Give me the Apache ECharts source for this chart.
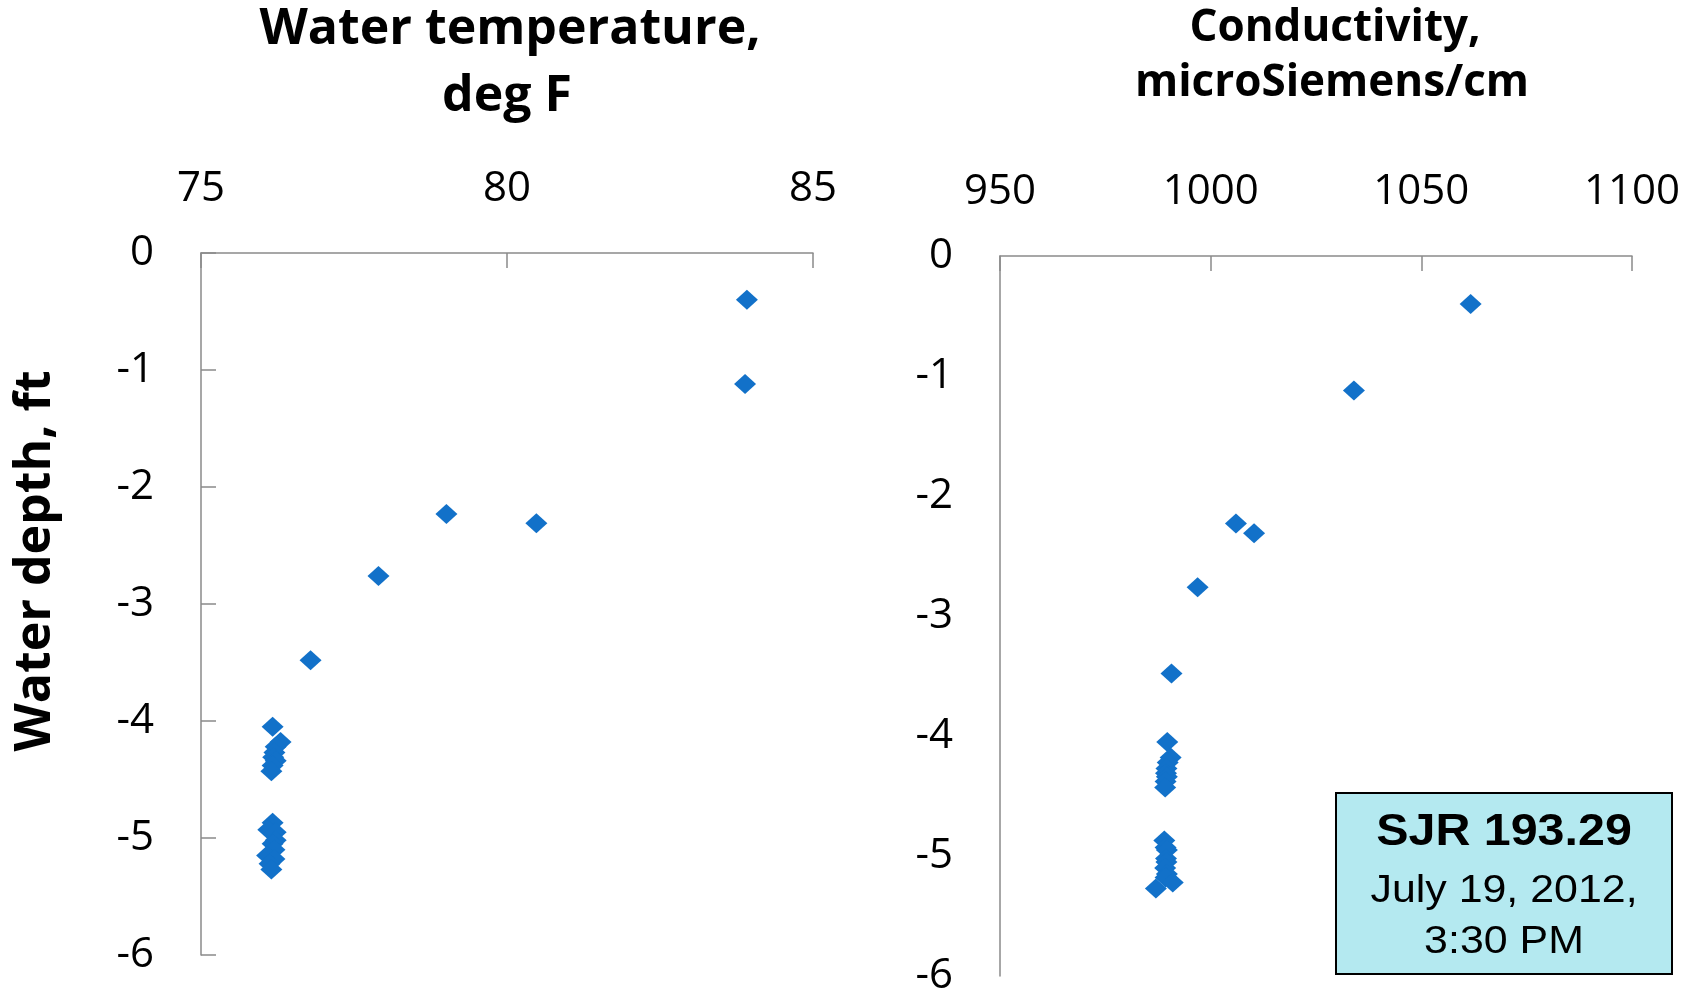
<!DOCTYPE html>
<html><head><meta charset="utf-8">
<script src="https://cdn.jsdelivr.net/npm/echarts@6/dist/echarts.min.js"></script>
<style>html,body{margin:0;padding:0;background:#fff}#c{width:1701px;height:997px}</style>
</head><body><div id="c"></div>
<script>
// Water depth (ft) of each measurement, shared by both panels
const depthFt = [-0.40, -1.12, -2.23, -2.31, -2.76, -3.48,
  -4.05, -4.18, -4.22, -4.27, -4.31, -4.34, -4.38, -4.43,
  -4.87, -4.93, -4.95, -5.02, -5.05, -5.10, -5.15, -5.18, -5.22, -5.27];
// Water temperature, deg F
const tempF = [83.92, 83.89, 79.01, 80.48, 77.90, 76.79,
  76.17, 76.30, 76.22, 76.20, 76.18, 76.22, 76.17, 76.15,
  76.17, 76.10, 76.22, 76.22, 76.17, 76.20, 76.08, 76.20, 76.12, 76.15];
// Conductivity, microSiemens/cm
const conductivity = [1061.7, 1034.0, 1006.0, 1010.3, 996.9, 990.7,
  989.7, 990.5, 989.8, 989.5, 989.4, 989.6, 989.3, 989.2,
  989.0, 989.3, 989.6, 989.4, 989.5, 989.2, 989.6, 989.3, 991.0, 987.0];

const tempAxis = {min: 75, max: 85, interval: 5};
const condAxis = {min: 950, max: 1100, interval: 50};
const depthAxis = {min: -6, max: 0, interval: 1};

const leftTitle = ['Water temperature,', 'deg F'];
const rightTitle = ['Conductivity,', 'microSiemens/cm'];
const yName = 'Water depth, ft';
const boxLines = ['SJR 193.29', 'July 19, 2012,', '3:30 PM'];

const FONT = '"Open Sans", Lato, sans-serif';
const AX = '#8a8a8a';
const MARK = '#1271C9';

function xAx(gi, r) {
  return {
    type: 'value', gridIndex: gi, position: 'top', min: r.min, max: r.max, interval: r.interval,
    axisLine: {show: true, lineStyle: {color: AX, width: 1.5}},
    axisTick: {show: true, inside: true, length: 15, lineStyle: {color: AX, width: 1.5}},
    axisLabel: {color: '#000', fontFamily: FONT, fontSize: 42, margin: 43, formatter: v => String(v)},
    splitLine: {show: false}
  };
}
function yAx(gi, ticks) {
  return {
    type: 'value', gridIndex: gi, min: depthAxis.min, max: depthAxis.max, interval: depthAxis.interval,
    axisLine: {show: true, onZero: false, lineStyle: {color: AX, width: 1.5}},
    axisTick: {show: ticks, inside: true, length: 15, lineStyle: {color: AX, width: 1.5}},
    axisLabel: {color: '#000', fontFamily: FONT, fontSize: 42, margin: 47, formatter: v => String(v)},
    splitLine: {show: false}
  };
}

const chart = echarts.init(document.getElementById('c'), null, {renderer: 'canvas'});
chart.setOption({
  backgroundColor: '#fff',
  animation: false,
  grid: [
    {left: 201, top: 253, width: 612, height: 702},
    {left: 1000, top: 256, width: 632, height: 722}
  ],
  xAxis: [xAx(0, tempAxis), xAx(1, condAxis)],
  yAxis: [yAx(0, true), yAx(1, false)],
  series: [
    {type: 'scatter', xAxisIndex: 0, yAxisIndex: 0, symbol: 'diamond', symbolSize: [22, 20],
     itemStyle: {color: MARK, opacity: 1}, data: tempF.map((v, i) => [v, depthFt[i]])},
    {type: 'scatter', xAxisIndex: 1, yAxisIndex: 1, symbol: 'diamond', symbolSize: [22, 20],
     itemStyle: {color: MARK, opacity: 1}, data: conductivity.map((v, i) => [v, depthFt[i]])}
  ],
  graphic: [
    {type: 'text', x: 510, y: 30, style: {text: leftTitle[0], font: 'bold 50px ' + FONT, fill: '#000', textAlign: 'center', textVerticalAlign: 'middle'}},
    {type: 'text', x: 507, y: 97, style: {text: leftTitle[1], font: 'bold 50px ' + FONT, fill: '#000', textAlign: 'center', textVerticalAlign: 'middle'}},
    {type: 'text', x: 1335, y: 28, style: {text: rightTitle[0], font: 'bold 44px ' + FONT, fill: '#000', textAlign: 'center', textVerticalAlign: 'middle'}},
    {type: 'text', x: 1332, y: 83, style: {text: rightTitle[1], font: 'bold 44px ' + FONT, fill: '#000', textAlign: 'center', textVerticalAlign: 'middle'}},
    {type: 'text', x: 36, y: 561, rotation: Math.PI / 2, style: {text: yName, font: 'bold 50px ' + FONT, fill: '#000', textAlign: 'center', textVerticalAlign: 'middle'}},
    {type: 'rect', shape: {x: 1336, y: 793, width: 336, height: 181}, style: {fill: '#B4E9F0', stroke: '#000', lineWidth: 2}, z: 10},
    {type: 'text', x: 1504, y: 833, scaleX: 1.1, z: 11, style: {text: boxLines[0], font: 'bold 44px "Liberation Sans", Arial, sans-serif', fill: '#000', textAlign: 'center', textVerticalAlign: 'middle'}},
    {type: 'text', x: 1504, y: 891, scaleX: 1.1, z: 11, style: {text: boxLines[1], font: '39px "Liberation Sans", Arial, sans-serif', fill: '#000', textAlign: 'center', textVerticalAlign: 'middle'}},
    {type: 'text', x: 1504, y: 942, scaleX: 1.1, z: 11, style: {text: boxLines[2], font: '39px "Liberation Sans", Arial, sans-serif', fill: '#000', textAlign: 'center', textVerticalAlign: 'middle'}}
  ]
});
</script></body></html>
